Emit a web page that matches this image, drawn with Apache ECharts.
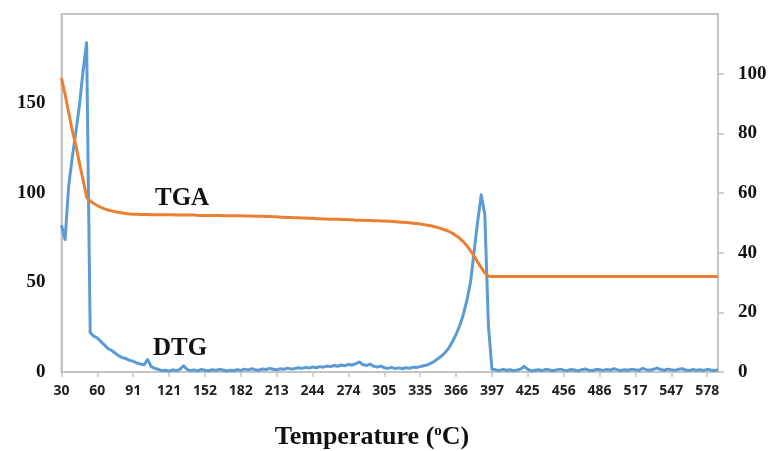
<!DOCTYPE html>
<html>
<head>
<meta charset="utf-8">
<script src="https://cdn.jsdelivr.net/npm/echarts@6/dist/echarts.min.js"></script>
<style>
  html, body { margin: 0; padding: 0; background: #fff; }
  #chart { width: 772px; height: 451px; }
</style>
</head>
<body>
<div id="chart"></div>
<script>
// one tick label every 10 points, 184 points in all
const tickLabels = ["30", "60", "91", "121", "152", "182", "213", "244", "274", "305",
  "335", "366", "397", "425", "456", "486", "517", "547", "578"];
const pointsPerTick = 10;

// DTG, left axis
const dtg = [
  82, 74, 104, 120, 134, 149, 168, 184, 22, 20,
  19, 17, 15, 13, 12, 10.5, 9, 8, 7.5, 6.5,
  6, 5, 4.5, 4, 7, 3, 2, 1.5, 0.8, 1.0,
  0.5, 1.2, 0.8, 1.5, 3.5, 1.5, 0.8, 1.2, 0.6, 1.4,
  1.0, 0.7, 1.3, 0.9, 1.5, 1.1, 0.6, 1.0, 0.8, 1.3,
  0.9, 1.6, 1.2, 1.8, 1.3, 1.0, 1.7, 1.4, 2.0, 1.5,
  1.2, 1.8, 1.5, 2.2, 1.6, 1.9, 2.4, 2.0, 2.6, 2.2,
  2.8, 2.4, 3.0, 2.7, 3.3, 3.0, 3.6, 3.2, 3.9, 3.5,
  4.3, 3.8, 4.6, 5.6, 4.2, 3.6, 4.4, 3.2, 2.8, 3.3,
  2.4, 2.0, 2.6, 1.9, 2.3, 1.8, 2.4, 2.1, 2.7, 2.5,
  3.0, 3.5, 4, 5, 6, 7.5, 9, 11, 13.5, 17,
  21, 26, 32, 40, 50, 67, 84, 99, 88, 26,
  1.5, 1.2, 0.8, 1.5, 1.0, 1.3, 0.7, 1.1, 1.6, 3.2,
  1.4, 0.6, 1.0, 1.3, 0.8, 1.5, 1.1, 0.7, 1.2, 1.6,
  1.0, 0.8, 1.4, 1.1, 0.6, 1.3, 1.7, 1.0, 0.8, 1.5,
  1.2, 0.9, 1.4, 1.1, 1.8, 1.2, 0.8, 1.3, 1.0, 1.6,
  1.2, 0.9, 2.0, 1.3, 1.0, 1.5, 2.2, 1.4, 1.0, 1.6,
  1.2, 0.9, 1.5, 1.8, 1.1, 0.8, 1.4, 1.0, 1.3, 0.9,
  1.5, 1.1, 0.8, 1.2
];

// TGA, right axis
const tga = [
  98.5, 93, 87, 81, 76, 70, 64.5, 58.5, 57.3, 56.5,
  55.8, 55.2, 54.7, 54.3, 54.0, 53.7, 53.5, 53.3, 53.1, 53.0,
  52.9, 52.9, 52.8, 52.8, 52.8, 52.7, 52.7, 52.7, 52.7, 52.7,
  52.7, 52.7, 52.6, 52.6, 52.6, 52.6, 52.6, 52.6, 52.5, 52.5,
  52.5, 52.5, 52.5, 52.5, 52.5, 52.4, 52.4, 52.4, 52.4, 52.4,
  52.4, 52.3, 52.3, 52.3, 52.2, 52.2, 52.2, 52.1, 52.1, 52.0,
  52.0, 51.9, 51.9, 51.8, 51.8, 51.7, 51.7, 51.6, 51.6, 51.5,
  51.5, 51.4, 51.4, 51.3, 51.3, 51.2, 51.2, 51.2, 51.1, 51.1,
  51.0, 51.0, 50.9, 50.9, 50.9, 50.8, 50.8, 50.7, 50.7, 50.6,
  50.6, 50.5, 50.5, 50.4, 50.3, 50.2, 50.1, 50.0, 49.9, 49.8,
  49.6, 49.4, 49.2, 49.0, 48.7, 48.4, 48.0, 47.6, 47.1, 46.5,
  45.7, 44.8, 43.7, 42.3, 40.7, 38.8, 36.9, 35.0, 33.2, 32.1,
  32, 32, 32, 32, 32, 32, 32, 32, 32, 32,
  32, 32, 32, 32, 32, 32, 32, 32, 32, 32,
  32, 32, 32, 32, 32, 32, 32, 32, 32, 32,
  32, 32, 32, 32, 32, 32, 32, 32, 32, 32,
  32, 32, 32, 32, 32, 32, 32, 32, 32, 32,
  32, 32, 32, 32, 32, 32, 32, 32, 32, 32,
  32, 32, 32, 32
];

const categories = dtg.map(function(v, i) {
  return i % pointsPerTick === 0 ? (tickLabels[i / pointsPerTick] || "") : "";
});

const grey = "#c4c4c4";
const serif = "'Liberation Serif', 'Times New Roman', serif";

const chart = echarts.init(document.getElementById("chart"), null, { renderer: "canvas" });

chart.setOption({
  animation: false,
  grid: {
    left: 61.5, right: 54, top: 14, bottom: 79,
    show: true, borderColor: grey, borderWidth: 2,
    containLabel: false, outerBoundsMode: "none",
  },
  xAxis: {
    type: "category",
    data: categories,
    boundaryGap: false,
    axisLine: { lineStyle: { color: grey, width: 2 } },
    axisTick: { show: true, interval: pointsPerTick - 1, length: 5, lineStyle: { color: grey, width: 1.5 } },
    axisLabel: {
      interval: pointsPerTick - 1, margin: 12,
      color: "#222", fontFamily: "'Open Sans', sans-serif", fontWeight: "bold", fontSize: 14,
    },
    splitLine: { show: false },
  },
  yAxis: [
    {
      type: "value", min: 0, max: 200, interval: 50,
      axisLine: { show: true, lineStyle: { color: grey, width: 2 } },
      axisTick: { show: false },
      splitLine: { show: false },
      axisLabel: {
        showMaxLabel: false, margin: 16,
        color: "#111", fontFamily: serif, fontWeight: "bold", fontSize: 19,
      },
    },
    {
      type: "value", min: 0, max: 120, interval: 20,
      position: "right",
      axisLine: { show: true, lineStyle: { color: grey, width: 2 } },
      axisTick: { show: true, length: 6, lineStyle: { color: grey, width: 1.5 } },
      splitLine: { show: false },
      axisLabel: {
        showMaxLabel: false, margin: 20,
        color: "#111", fontFamily: serif, fontWeight: "bold", fontSize: 19,
      },
    },
  ],
  series: [
    {
      name: "DTG", type: "line", yAxisIndex: 0, data: dtg,
      showSymbol: false, symbol: "none",
      lineStyle: { color: "#5b9bd5", width: 3, join: "round" },
    },
    {
      name: "TGA", type: "line", yAxisIndex: 1, data: tga,
      showSymbol: false, symbol: "none",
      lineStyle: { color: "#ed7d31", width: 3, join: "round" },
    },
  ],
  graphic: [
    { type: "text", left: 155, top: 186, style: { text: "TGA", font: "bold 25px " + serif, fill: "#111" } },
    { type: "text", left: 153, top: 336, style: { text: "DTG", font: "bold 25px " + serif, fill: "#111" } },
    {
      type: "text", x: 372, y: 437,
      style: {
        text: "{a|Temperature (}{s|o}{a|C)}",
        align: "center", verticalAlign: "middle",
        rich: {
          a: { fontFamily: serif, fontWeight: "bold", fontSize: 26, fill: "#111" },
          s: { fontFamily: serif, fontWeight: "bold", fontSize: 15, fill: "#111", verticalAlign: "top", padding: [0, 0, 12, 0] },
        },
      },
    },
  ],
});
</script>
</body>
</html>
